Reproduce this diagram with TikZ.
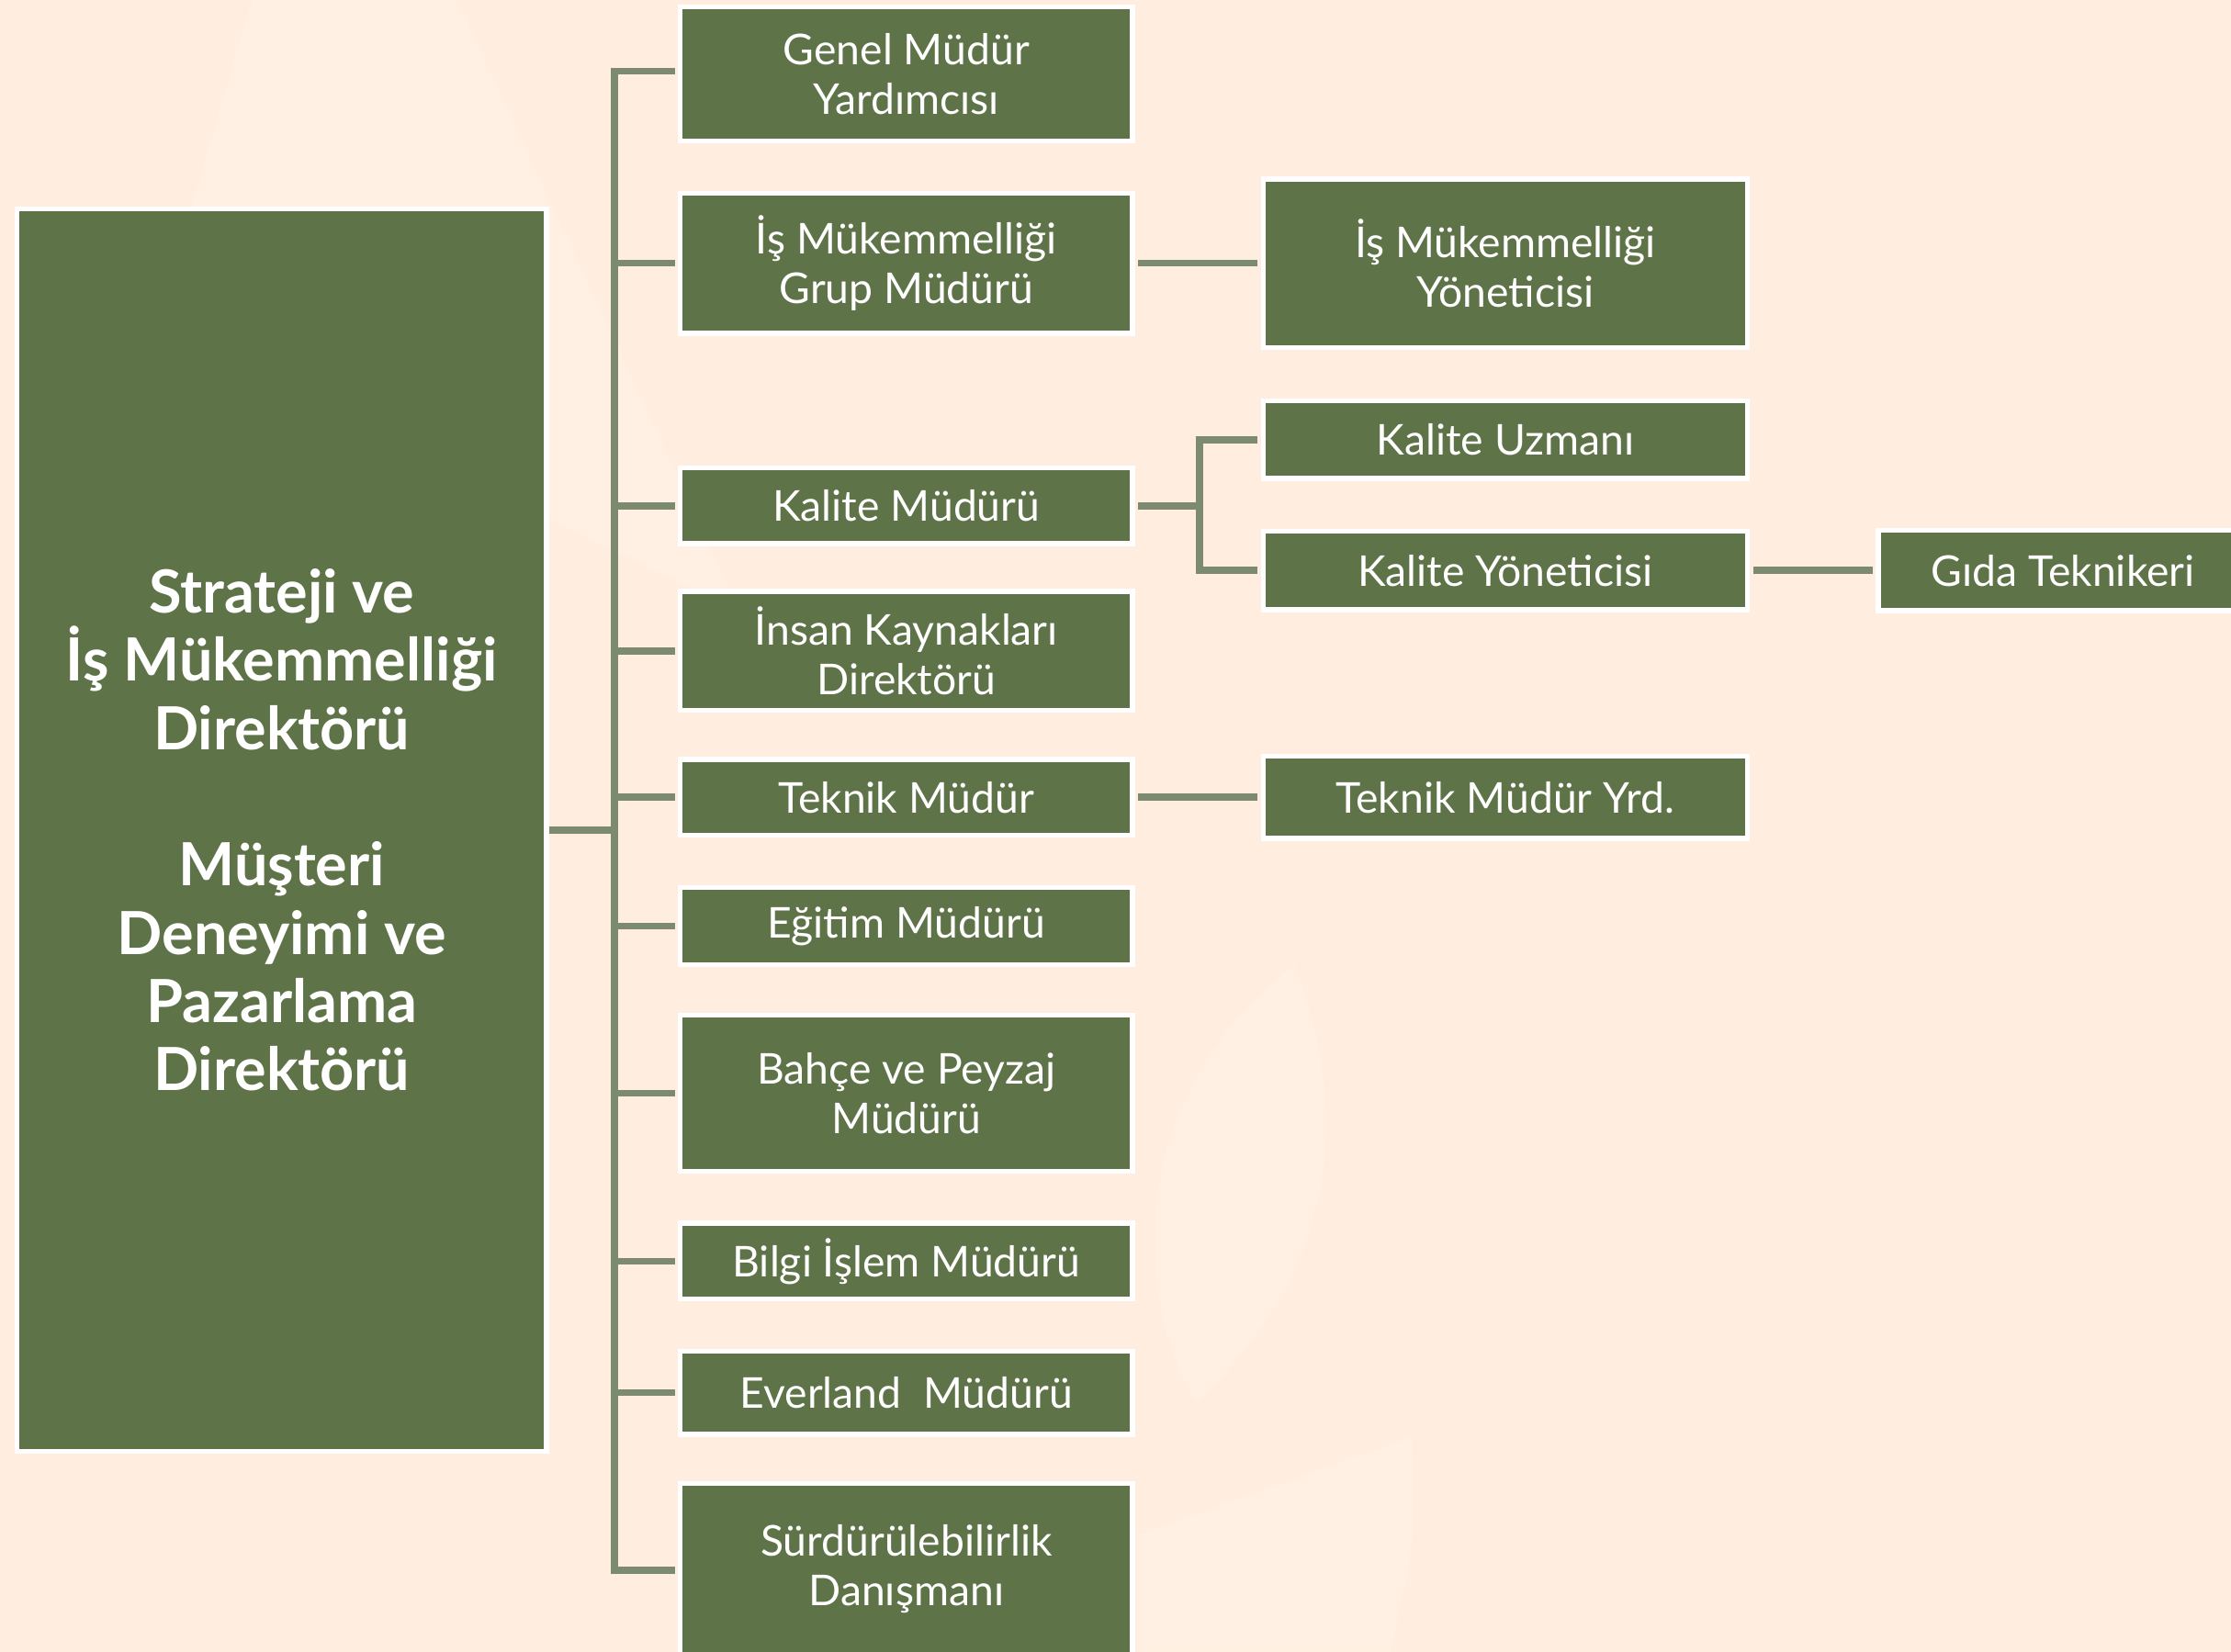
\documentclass[tikz,border=0pt]{standalone}
\usepackage{fontspec}
\setmainfont{Lato}
\definecolor{bg}{HTML}{FFEEDF}
\definecolor{leafc}{HTML}{FFF0E3}
\definecolor{boxgreen}{HTML}{5E7347}
\definecolor{linegreen}{HTML}{7C8A70}
\begin{document}
\begin{tikzpicture}[x=0.02cm,y=-0.02cm,
  orgbox/.style={draw=white, line width=2pt, fill=boxgreen, text=white, align=center,
    inner sep=0pt, font=\fontsize{17}{20}\selectfont},
  bigbox/.style={orgbox, font=\bfseries\fontsize{23.8}{27.3}\selectfont},
  conn/.style={draw=linegreen, line width=2.8pt, line cap=rect},
  connend/.style={conn, line cap=butt, shorten >=1.2pt},
]
\fill[bg] (0,0) rectangle (1568,1161);
\useasboundingbox (0,0) rectangle (1568,1161);
% faint background leaves
\fill[leafc] (177,0) -- (321,0) -- (520,430) -- (110,230) -- cycle;
\fill[leafc] (910,679) .. controls (955,800) and (930,900) .. (841,986)
  .. controls (790,900) and (800,760) .. (910,679);
\fill[leafc] (800,1079) -- (992,1010) .. controls (995,1080) .. (977,1161) -- (800,1161) -- cycle;

% main box
\node[bigbox, minimum width=7.45cm, minimum height=17.47cm] (big) at (198,583.5)
  {Strateji ve\\İş Mükemmelliği\\Direktörü\\[27.3pt]Müşteri\\Deneyimi ve\\Pazarlama\\Direktörü};

% column 2
\node[orgbox, minimum width=6.36cm, minimum height=1.89cm] (g1) at (637,52) {Genel Müdür\\Yardımcısı};
\node[orgbox, minimum width=6.36cm, minimum height=1.97cm] (g2) at (637,185) {İş Mükemmelliği\\Grup Müdürü};
\node[orgbox, minimum width=6.36cm, minimum height=1.07cm] (g3) at (637,355.5) {Kalite Müdürü};
\node[orgbox, minimum width=6.36cm, minimum height=1.67cm] (g4) at (637,457.5) {İnsan Kaynakları\\Direktörü};
\node[orgbox, minimum width=6.36cm, minimum height=1.07cm] (g5) at (637,560.5) {Teknik Müdür};
\node[orgbox, minimum width=6.36cm, minimum height=1.09cm] (g6) at (637,651) {Eğitim Müdürü};
\node[orgbox, minimum width=6.36cm, minimum height=2.19cm] (g7) at (637,768.5) {Bahçe ve Peyzaj\\Müdürü};
\node[orgbox, minimum width=6.36cm, minimum height=1.07cm] (g8) at (637,886.5) {Bilgi İşlem Müdürü};
\node[orgbox, minimum width=6.36cm, minimum height=1.17cm] (g9) at (637,979) {Everland\ \ Müdürü};
\node[orgbox, minimum width=6.36cm, minimum height=2.40cm] (g10) at (637,1103) {Sürdürülebilirlik\\Danışmanı};

% column 3
\node[orgbox, minimum width=6.81cm, minimum height=2.37cm] (c1) at (1058,185) {İş Mükemmelliği\\Yöneticisi};
\node[orgbox, minimum width=6.81cm, minimum height=1.09cm] (c2) at (1058,309) {Kalite Uzmanı};
\node[orgbox, minimum width=6.81cm, minimum height=1.11cm] (c3) at (1058,401) {Kalite Yöneticisi};
\node[orgbox, minimum width=6.81cm, minimum height=1.15cm] (c4) at (1058,560.5) {Teknik Müdür Yrd.};

% column 4
\node[orgbox, minimum width=5.2cm, minimum height=1.13cm] (d1) at (1450,401) {Gıda Teknikeri};

% connectors
\coordinate (trunk) at (432,583);
\coordinate (kb) at (843,355);
\draw[conn, line cap=butt] (big.east) -- (big.east -| trunk);
\draw[conn] (trunk |- 0,50) -- (trunk |- 0,1104);
\draw[connend] (trunk |- 0,50) -- (g1.west |- 0,50);
\draw[connend] (trunk |- g2.west) -- (g2.west);
\draw[connend] (trunk |- g3.west) -- (g3.west);
\draw[connend] (trunk |- g4.west) -- (g4.west);
\draw[connend] (trunk |- g5.west) -- (g5.west);
\draw[connend] (trunk |- g6.west) -- (g6.west);
\draw[connend] (trunk |- g7.west) -- (g7.west);
\draw[connend] (trunk |- g8.west) -- (g8.west);
\draw[connend] (trunk |- g9.west) -- (g9.west);
\draw[connend] (trunk |- 0,1104) -- (g10.west |- 0,1104);

\draw[connend, shorten <=1.2pt] (g2.east) -- (c1.west);
\draw[conn, line cap=butt, shorten <=1.2pt] (g3.east) -- (g3.east -| kb);
\draw[conn] (kb |- c2.west) -- (kb |- c3.west);
\draw[connend] (kb |- c2.west) -- (c2.west);
\draw[connend] (kb |- c3.west) -- (c3.west);
\draw[connend, shorten <=1.2pt] (c3.east) -- (d1.west);
\draw[connend, shorten <=1.2pt] (g5.east) -- (c4.west);
\end{tikzpicture}
\end{document}
